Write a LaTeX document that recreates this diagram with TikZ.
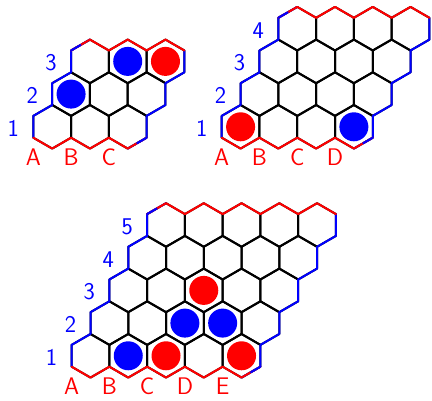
\documentclass[tikz,border=0pt]{standalone}
\usepackage{fontspec}
\begin{document}
\def\W{37.76}
\def\R{21.8}
\def\V{32.7}
\newcommand\colname[1]{\ifcase#1\or A\or B\or C\or D\or E\fi}
\tikzset{
  hexline/.style={line width=2pt, draw=black, line join=round},
  redline/.style={line width=2pt, draw=red, line join=round, line cap=round},
  blueline/.style={line width=2pt, draw=blue, line join=round, line cap=round},
  lab/.style={font=\sffamily\fontsize{24}{28}\selectfont, inner sep=0pt},
  stonefill/.style={draw=none}
}
\newcommand\hexboard[3]{%
\begin{scope}[shift={(#2,#3)}]
\foreach \j in {1,...,#1}{
  \foreach \i in {1,...,#1}{
    \pgfmathsetmacro\cx{(\i-1)*\W+(\j-1)*\W/2}
    \pgfmathsetmacro\cy{(\j-1)*\V}
    \draw[hexline,shift={(\cx,\cy)}] (30:\R)--(90:\R)--(150:\R)--(210:\R)--(270:\R)--(330:\R)--cycle;
  }
}
\foreach \j in {1,...,#1}{
  \pgfmathsetmacro\lx{(\j-1)*\W/2}
  \pgfmathsetmacro\rx{(#1-1)*\W+(\j-1)*\W/2}
  \pgfmathsetmacro\cy{(\j-1)*\V}
  \draw[blueline,shift={(\lx,\cy)}] (90:\R)--(150:\R)--(210:\R);
  \draw[blueline,shift={(\rx,\cy)}] (30:\R)--(330:\R)--(270:\R);
}
\foreach \i in {1,...,#1}{
  \pgfmathsetmacro\bx{(\i-1)*\W}
  \pgfmathsetmacro\tx{(\i-1)*\W+(#1-1)*\W/2}
  \pgfmathsetmacro\ty{(#1-1)*\V}
  \draw[redline,shift={(\bx,0)}] (210:\R)--(270:\R)--(330:\R);
  \draw[redline,shift={(\tx,\ty)}] (150:\R)--(90:\R)--(30:\R);
}
\pgfmathsetmacro\tlx{(#1-1)*\W/2}
\pgfmathsetmacro\tly{(#1-1)*\V}
\pgfmathsetmacro\brx{(#1-1)*\W}
\draw[blueline,shift={(\tlx,\tly)}] (150:\R)--(120:{\W/2});
\draw[blueline,shift={(\brx,0)}] (330:\R)--(300:{\W/2});
\foreach \i in {1,...,#1}{
  \pgfmathsetmacro\lx{(\i-1)*\W-\W/2}
  \node[lab,text=red] (b#1c\i) at (\lx,{-\R-8.5}) {\colname{\i}};
}
\foreach \j in {1,...,#1}{
  \pgfmathsetmacro\nx{(\j-1)*\W/2-\W/2-20}
  \pgfmathsetmacro\ny{(\j-1)*\V-1.5}
  \node[lab,text=blue] (b#1r\j) at (\nx,\ny) {\j};
}
\end{scope}}
\newcommand\stone[5]{% color, ox, oy, col, row
  \pgfmathsetmacro\sx{#2+(#4-1)*\W+(#5-1)*\W/2}
  \pgfmathsetmacro\sy{#3+(#5-1)*\V}
  \fill[#1,stonefill] (\sx,\sy) circle (14.5);
}
\begin{tikzpicture}[x=1pt,y=1pt]
\useasboundingbox (0,0) rectangle (432,401);
\hexboard{3}{52.2}{274.2}
\stone{blue}{52.2}{274.2}{1}{2}
\stone{blue}{52.2}{274.2}{2}{3}
\stone{red}{52.2}{274.2}{3}{3}
\hexboard{4}{240.6}{274.2}
\stone{red}{240.6}{274.2}{1}{1}
\stone{blue}{240.6}{274.2}{4}{1}
\hexboard{5}{90.5}{45.2}
\stone{blue}{90.5}{45.2}{2}{1}
\stone{red}{90.5}{45.2}{3}{1}
\stone{red}{90.5}{45.2}{5}{1}
\stone{blue}{90.5}{45.2}{3}{2}
\stone{blue}{90.5}{45.2}{4}{2}
\stone{red}{90.5}{45.2}{3}{3}
\end{tikzpicture}
\end{document}
